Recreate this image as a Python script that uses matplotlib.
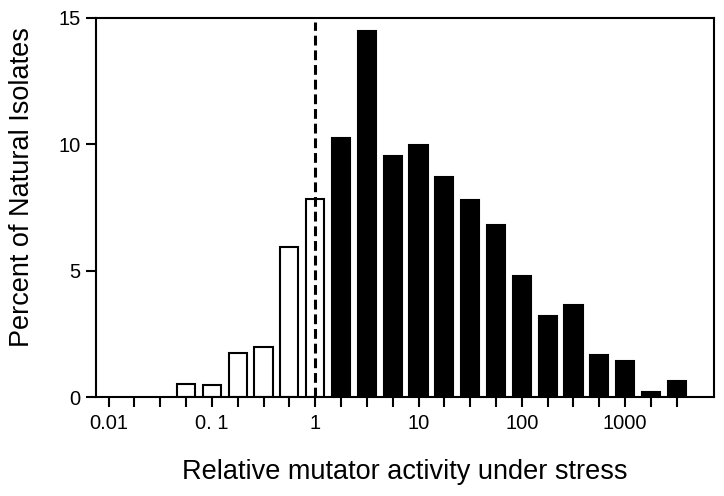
import numpy as np
import matplotlib.pyplot as plt

plt.rcParams['font.family'] = ['Liberation Sans', 'DejaVu Sans']

# bin centres (log10 of relative mutator activity), quarter-decade bins
bin_exp = [-2.0, -1.75, -1.5, -1.25, -1.0, -0.75, -0.5, -0.25, 0.0,
           0.25, 0.5, 0.75, 1.0, 1.25, 1.5, 1.75, 2.0, 2.25, 2.5, 2.75,
           3.0, 3.25, 3.5]
percent = [0, 0, 0, 0.51, 0.49, 1.74, 1.98, 5.93, 7.85,
           10.26, 14.48, 9.52, 9.98, 8.69, 7.78, 6.82, 4.78, 3.21, 3.66, 1.67,
           1.43, 0.21, 0.64]
# bins below/at 1 are open, above are filled
filled = [e > 0 for e in bin_exp]

tick_labels = ['0.01', '0. 1', '1', '10', '100', '1000']
tick_vals = [0.01, 0.1, 1, 10, 100, 1000]

fig = plt.figure(figsize=(7.24, 4.96), dpi=100)
ax = fig.add_axes([0.1326, 0.199, 0.854, 0.7653])

half = 0.088
for e, p, f in zip(bin_exp, percent, filled):
    if p <= 0:
        continue
    left = 10 ** (e - half)
    right = 10 ** (e + half)
    ax.bar(left, p, width=right - left, align='edge',
           facecolor='black' if f else 'white', edgecolor='black',
           linewidth=1.5, zorder=2)

ax.axvline(1, color='black', linestyle=(0, (3.2, 1.6)), linewidth=2.2, zorder=3,
           ymin=0, ymax=0.99)

ax.set_xscale('log')
ax.set_xlim(0.00755, 7300)
ax.set_ylim(0, 15)

ax.set_xticks(10 ** np.arange(-2, 3.75, 0.25), minor=True)
ax.set_xticks(tick_vals)
ax.set_xticklabels(tick_labels)
ax.set_yticks([0, 5, 10, 15])

ax.tick_params(axis='both', which='both', direction='out', length=7, width=1.5,
               labelsize=14.5, color='black')
ax.tick_params(axis='x', which='both', pad=5)
ax.tick_params(axis='y', pad=4)
for s in ax.spines.values():
    s.set_linewidth(1.5)

ax.set_ylabel('Percent of Natural Isolates', fontsize=19.5)
ax.yaxis.set_label_coords(-0.098, 0.553)
ax.set_xlabel('Relative mutator activity under stress', fontsize=19.5, labelpad=19)

fig.savefig('out.png', dpi=100)
